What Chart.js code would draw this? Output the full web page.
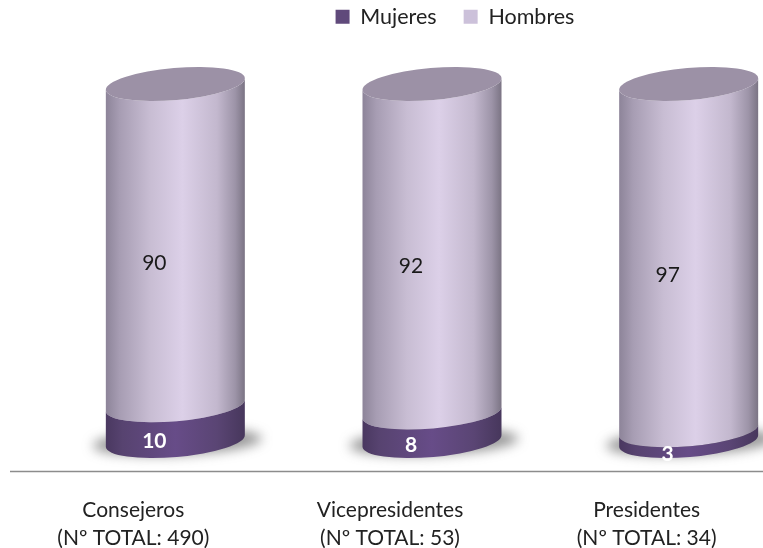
<!DOCTYPE html>
<html>
<head>
<meta charset="utf-8">
<style>
  html, body { margin: 0; padding: 0; background: #fff; overflow: hidden; width: 763px; height: 548px; }
  canvas { display: block; }
</style>
<script src="https://cdn.jsdelivr.net/npm/chart.js"></script>
</head>
<body>
<canvas id="cylinders" width="830" height="599"></canvas>
<script>
const categories = [
  ['Consejeros', '(Nº TOTAL: 490)'],
  ['Vicepresidentes', '(Nº TOTAL: 53)'],
  ['Presidentes', '(Nº TOTAL: 34)']
];
const mujeres = [10, 8, 3];
const hombres = [90, 92, 97];

const FONT = 'Lato, "Open Sans", sans-serif';
const TILT = -5 * Math.PI / 180;
const CAP_RY = 16;

function sideGradient(ctx, el, stops) {
  const left = el.x - el.width / 2;
  const g = ctx.createLinearGradient(left, 0, left + el.width, 0);
  stops.forEach(s => g.addColorStop(s[0], s[1]));
  return g;
}

const shades = [
  [[0, '#4a3860'], [0.12, '#574370'], [0.5, '#674c88'], [0.8, '#5a4574'], [1, '#47375c']],
  [[0, '#8d8499'], [0.1, '#a79db3'], [0.32, '#c8bdd3'], [0.55, '#dcd0e8'], [0.8, '#c3b8ce'], [0.93, '#9d94a8'], [1, '#7b7484']]
];

const cylinderPlugin = {
  id: 'cylinder',
  afterLayout(chart) {
    // legend item gap also pads the top, pull it back up and across
    chart.legend.top = -21;
    chart.legend.left += 23;
    chart.legend.right += 23;
  },
  beforeDatasetsDraw(chart) {
    const ctx = chart.ctx;
    chart.getDatasetMeta(0).data.forEach(el => {
      ctx.save();
      ctx.filter = 'blur(6px)';
      ctx.fillStyle = 'rgba(80,80,80,0.6)';
      ctx.beginPath();
      ctx.ellipse(el.x + 2, el.base + 1, el.width / 2 + 15, 13, TILT / 2, 0, Math.PI * 2);
      ctx.fill();
      ctx.restore();
    });
  },
  beforeDatasetDraw(chart, args) {
    const ctx = chart.ctx;
    args.meta.data.forEach(el => {
      const a = el.width / 2 / Math.cos(TILT);
      ctx.beginPath();
      ctx.ellipse(el.x, el.base, a, CAP_RY, TILT, 0, Math.PI);
      ctx.ellipse(el.x, el.y, a, CAP_RY, TILT, Math.PI, 0, true);
      ctx.closePath();
      ctx.fillStyle = sideGradient(ctx, el, shades[args.index]);
      ctx.fill();
      if (args.index === 1) {
        ctx.beginPath();
        ctx.ellipse(el.x, el.y, a, CAP_RY, TILT, 0, Math.PI * 2);
        ctx.fillStyle = '#9c91a6';
        ctx.fill();
      }
    });
    return false; // cylinder replaces the flat bar
  },
  afterDatasetsDraw(chart) {
    const ctx = chart.ctx;
    ctx.save();
    ctx.textAlign = 'center';
    ctx.textBaseline = 'middle';
    chart.data.datasets.forEach((ds, i) => {
      chart.getDatasetMeta(i).data.forEach((el, j) => {
        const cy = (el.y + el.base) / 2 + 18.5;
        ctx.font = (i === 0 ? 'bold ' : '') + '21px ' + FONT;
        ctx.fillStyle = i === 0 ? '#fff' : '#1a1a1a';
        ctx.fillText(ds.data[j], el.x - 21, cy);
      });
    });
    // axis rule
    const y = chart.scales.y.bottom + 30.5;
    ctx.strokeStyle = '#8c8c8c';
    ctx.lineWidth = 1.5;
    ctx.beginPath();
    ctx.moveTo(10, y);
    ctx.lineTo(chart.width, y);
    ctx.stroke();
    ctx.restore();
  }
};

new Chart(document.getElementById('cylinders'), {
  type: 'bar',
  data: {
    labels: categories,
    datasets: [
      { label: 'Mujeres', data: mujeres, backgroundColor: '#604a7b', borderWidth: 0, barThickness: 139 },
      { label: 'Hombres', data: hombres, backgroundColor: '#ccc1da', borderWidth: 0, barThickness: 139 }
    ]
  },
  plugins: [cylinderPlugin],
  options: {
    responsive: false,
    animation: false,
    layout: { padding: { left: 47, right: 13, top: 25.5, bottom: 0 } },
    plugins: {
      tooltip: { enabled: false },
      legend: {
        display: true,
        position: 'top',
        labels: { boxWidth: 14, boxHeight: 14, padding: 27, color: '#222', font: { family: FONT, size: 21.5 } }
      }
    },
    scales: {
      x: {
        stacked: true,
        grid: { display: false },
        border: { display: false },
        ticks: {
          color: '#222',
          padding: 47,
          labelOffset: -42,
          maxRotation: 0,
          autoSkip: false,
          font: { family: FONT, size: 21, lineHeight: 1.3333 }
        }
      },
      y: { stacked: true, min: 0, max: 100, display: false }
    }
  }
});
</script>
</body>
</html>
